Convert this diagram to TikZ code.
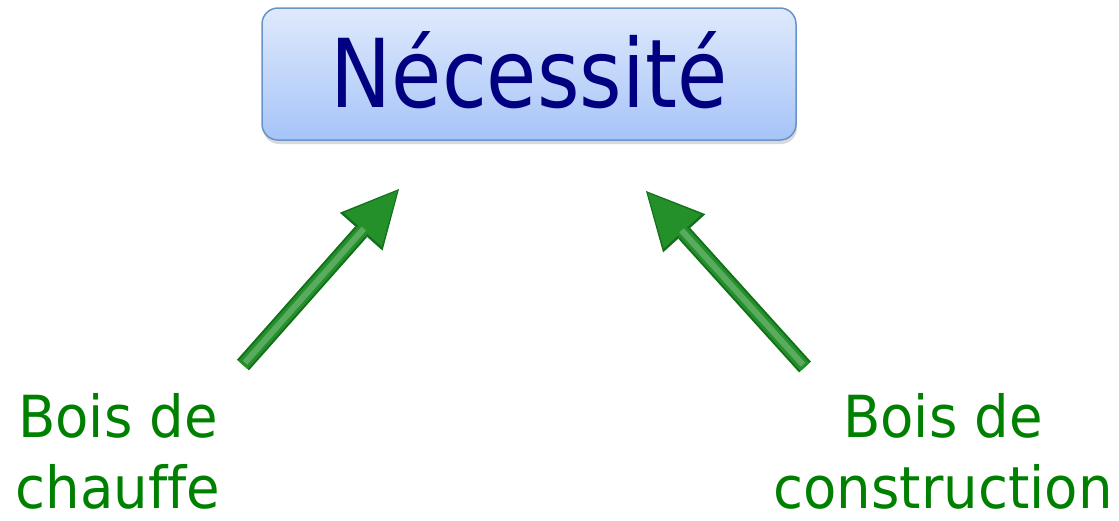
\documentclass[tikz,border=0pt]{standalone}
\usepackage{fontspec}
\newfontfamily\titlefont[FakeStretch=0.86, Ligatures=NoCommon]{DejaVu Sans}
\newfontfamily\labelfont[FakeStretch=0.94, Ligatures=NoCommon]{DejaVu Sans}
\usetikzlibrary{arrows.meta, shadows}
\definecolor{boxtop}{HTML}{DFE9FC}
\definecolor{boxbottom}{HTML}{A6C4F8}
\definecolor{boxborder}{HTML}{6A93C8}
\definecolor{needtext}{HTML}{000080}
\definecolor{labelgreen}{HTML}{008000}
\definecolor{arrowfill}{HTML}{23902A}
\definecolor{arrowline}{HTML}{12701A}
\tikzstyle{need_box} = [rectangle, rounded corners=16pt, minimum width=534pt, minimum height=132pt, inner sep=0pt, text height=70pt, text depth=4pt, draw=boxborder, line width=1.5pt, top color=boxtop, bottom color=boxbottom, drop shadow={shadow xshift=1pt, shadow yshift=-4pt, opacity=0.25, fill=black!60}, text=needtext, font=\titlefont\fontsize{95}{114}\selectfont]
\tikzstyle{wood_label} = [align=center, inner sep=0pt, anchor=north, text=labelgreen, font=\labelfont\fontsize{58}{71}\selectfont]
\tikzstyle{need_arrow_line} = [line width=16pt, draw=arrowline, fill=arrowline, -{Triangle[length=57pt, width=57pt, line width=0pt]}]
\tikzstyle{need_arrow} = [line width=12pt, draw=arrowfill, fill=arrowfill, shorten >=2.5pt, -{Triangle[length=52pt, width=51pt, line width=0pt]}]
\tikzstyle{arrow_shine} = [line width=6pt, draw=white, opacity=0.25, shorten >=53pt, shorten <=3pt]

\begin{document}
\begin{tikzpicture}[x=1pt, y=-1pt]
\useasboundingbox (0,0) rectangle (1119,520);
\node (need) [need_box] at (529,74) {Nécessité};
\node (heating) [wood_label] at (118,393) {Bois de\\chauffe};
\node (building) [wood_label] at (943,393) {Bois de\\construction};

% extrémités des flèches
\coordinate (heating_tail) at (243,365);
\coordinate (heating_tip) at (399,189);
\coordinate (building_tail) at (805,367);
\coordinate (building_tip) at (646,191);

\foreach \from/\to in {heating_tail/heating_tip, building_tail/building_tip} {
  \draw [need_arrow_line] (\from) -- (\to);
  \draw [need_arrow] (\from) -- (\to);
  \draw [arrow_shine] (\from) -- (\to);
}
\end{tikzpicture}
\end{document}
